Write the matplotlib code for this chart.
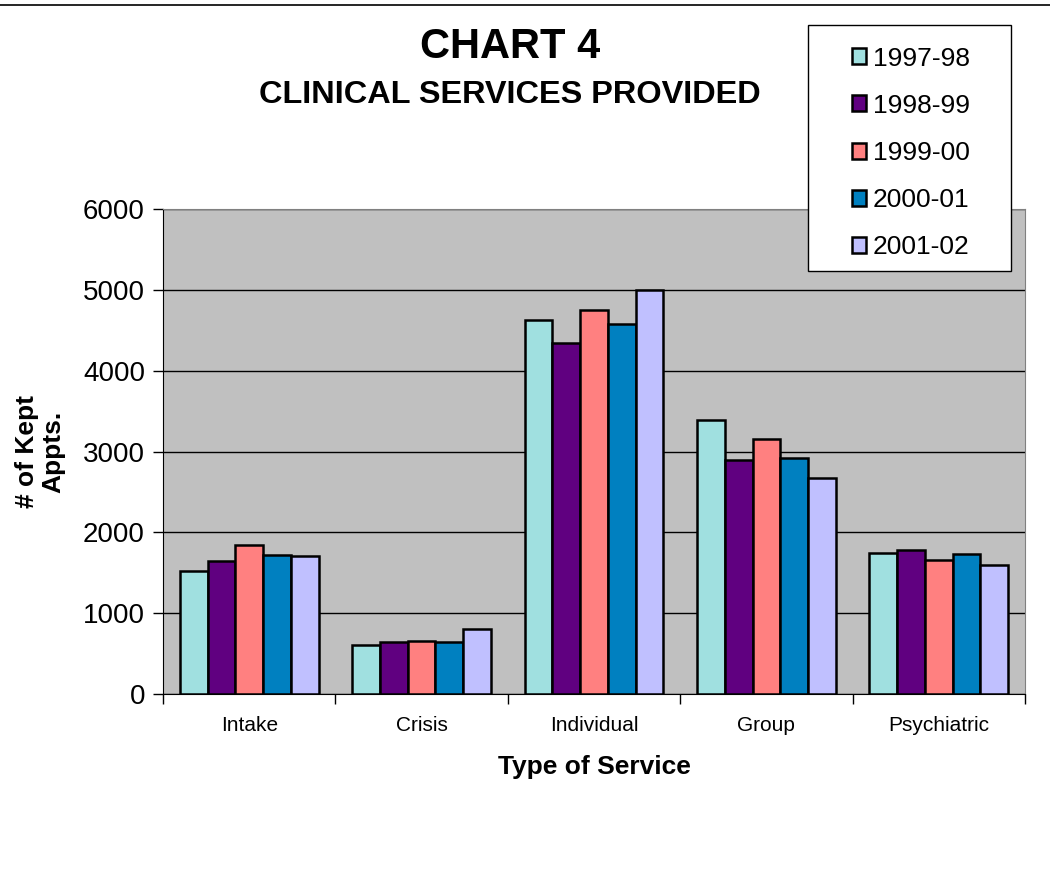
import numpy as np
import matplotlib.pyplot as plt
from matplotlib.lines import Line2D
from matplotlib.patches import Rectangle

plt.rcParams['font.family'] = ['Liberation Sans', 'DejaVu Sans']

categories = ['Intake', 'Crisis', 'Individual', 'Group', 'Psychiatric']
years = ['1997-98', '1998-99', '1999-00', '2000-01', '2001-02']
colors = ['#A0E0E0', '#600080', '#FF8080', '#0080C0', '#C0C0FF']

v_1997 = [1516, 603, 4626, 3387, 1748]
v_1998 = [1644, 644, 4341, 2890, 1782]
v_1999 = [1846, 661, 4750, 3149, 1655]
v_2000 = [1718, 640, 4572, 2918, 1726]
v_2001 = [1702, 805, 5000, 2670, 1600]
series = [v_1997, v_1998, v_1999, v_2000, v_2001]

W, H = 1050, 892
fig = plt.figure(figsize=(W / 100, H / 100), dpi=100)
ax = fig.add_axes([163 / W, 1 - 694 / H, (1025 - 163) / W, (694 - 209) / H])
ax.set_facecolor('#C0C0C0')

x = np.arange(len(categories))
bw = 0.161
for i, (vals, c, lab) in enumerate(zip(series, colors, years)):
    ax.bar(x + (i - 2) * bw, vals, bw, color=c, edgecolor='black',
           linewidth=1.8, label=lab, zorder=3)

ax.set_xlim(-0.5, len(categories) - 0.5)
ax.set_ylim(0, 6000)
ax.set_yticks(range(0, 6001, 1000))
ax.yaxis.grid(True, color='black', linewidth=1.0, zorder=1)
ax.set_axisbelow(True)
ax.tick_params(axis='y', labelsize=20, length=7, width=1, direction='out', pad=6)

ax.set_xticks(x)
ax.set_xticklabels(categories, fontsize=15)
ax.set_xticks(np.arange(-0.5, len(categories), 1), minor=True)
ax.tick_params(axis='x', which='major', length=0, pad=16)
ax.tick_params(axis='x', which='minor', length=7, width=1, direction='out')

for s in ['top', 'right']:
    ax.spines[s].set_color('#808080')
for s in ['left', 'bottom']:
    ax.spines[s].set_color('black')

ax.set_xlabel('Type of Service', fontsize=19, fontweight='bold', labelpad=14)
fig.text(40 / W, 1 - 452 / H, '# of Kept\nAppts.', rotation=90, fontsize=19,
         fontweight='bold', ha='center', va='center', linespacing=1.1)

fig.text(510 / W, 1 - 47 / H, 'CHART 4', fontsize=30, fontweight='bold',
         ha='center', va='center')
fig.text(510 / W, 1 - 95 / H, 'CLINICAL SERVICES PROVIDED', fontsize=23.4,
         fontweight='bold', ha='center', va='center')

# thin rule across the top of the page
fig.add_artist(Line2D([0, 1], [1 - 5 / H, 1 - 5 / H], color='black', linewidth=1.2))

# legend: white box drawn on its own, entries centred inside
box = Rectangle((808 / W, 1 - 271 / H), (1011 - 808) / W, (271 - 25) / H,
                transform=fig.transFigure, facecolor='white', edgecolor='black',
                linewidth=1.0, zorder=9)
fig.add_artist(box)
handles, labels = ax.get_legend_handles_labels()
leg = fig.legend(handles, labels, loc='center', bbox_to_anchor=(911 / W, 1 - 153 / H),
                 fontsize=19, frameon=False,
                 handlelength=0.55, handleheight=0.55, handletextpad=0.25,
                 labelspacing=0.88, borderpad=0, borderaxespad=0)
leg.set_zorder(10)

fig.savefig('out.png', dpi=100, facecolor='white')
